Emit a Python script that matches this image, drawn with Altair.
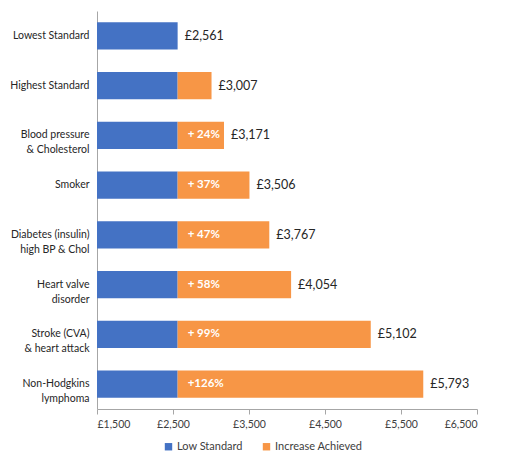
import altair as alt
import pandas as pd

categories = [
    "Lowest Standard",
    "Highest Standard",
    "Blood pressure|& Cholesterol",
    "Smoker",
    "Diabetes (insulin)|high BP & Chol",
    "Heart valve|disorder",
    "Stroke (CVA)|& heart attack",
    "Non-Hodgkins|lymphoma",
]
low_standard = 2561
totals = [2561, 3007, 3171, 3506, 3767, 4054, 5102, 5793]
pct_labels = ["", "", "+ 24%", "+ 37%", "+ 47%", "+ 58%", "+ 99%", "+126%"]
x_ticks = [1500, 2500, 3500, 4500, 5500, 6500]
series = ["Low Standard", "Increase Achieved"]
colors = ["#4472C4", "#F79646"]

FONT = "Lato"
AXIS_GREY = "#A6A6A6"

rows = []
for cat, tot in zip(categories, totals):
    rows.append({"cat": cat, "series": series[0], "start": x_ticks[0], "end": low_standard})
    rows.append({"cat": cat, "series": series[1], "start": low_standard, "end": tot})
bars_df = pd.DataFrame(rows)

labels_df = pd.DataFrame(
    {"cat": categories, "total": totals, "pct": pct_labels, "low": [low_standard] * len(categories)}
)

y_enc = alt.Y(
    "cat:N",
    sort=categories,
    scale=alt.Scale(paddingInner=0.45, paddingOuter=0.225),
    axis=alt.Axis(
        title=None,
        labelExpr="split(datum.label, '|')",
        ticks=False,
        domainColor=AXIS_GREY,
        labelFont=FONT,
        labelFontSize=10.5,
        labelColor="#262626",
        labelPadding=8,
        labelLineHeight=15,
        labelLimit=200,
    ),
)

x_scale = alt.Scale(domain=[x_ticks[0], x_ticks[-1]], zero=False, nice=False)

bars = (
    alt.Chart(bars_df)
    .mark_bar()
    .encode(
        y=y_enc,
        x=alt.X(
            "start:Q",
            scale=x_scale,
            axis=alt.Axis(
                title=None,
                values=x_ticks,
                labelExpr="'£' + format(datum.value, ',')",
                grid=False,
                tickSize=5,
                tickColor=AXIS_GREY,
                domainColor=AXIS_GREY,
                labelFont=FONT,
                labelFontSize=10.5,
                labelColor="#404040",
                labelPadding=5,
            ),
        ),
        x2="end:Q",
        color=alt.Color(
            "series:N",
            scale=alt.Scale(domain=series, range=colors),
            legend=alt.Legend(
                title=None,
                orient="none",
                legendX=66,
                legendY=430,
                direction="horizontal",
                symbolType="square",
                symbolSize=55,
                symbolStrokeWidth=0,
                labelFont=FONT,
                labelFontSize=11,
                labelColor="#404040",
                columnPadding=18,
                labelOffset=3,
            ),
        ),
    )
)

pct_text = (
    alt.Chart(labels_df)
    .mark_text(align="left", dx=10, font=FONT, fontSize=11.5, fontWeight="bold", color="white")
    .encode(y=alt.Y("cat:N", sort=categories), x=alt.X("low:Q", scale=x_scale), text="pct:N")
)

total_text = (
    alt.Chart(labels_df)
    .transform_calculate(lbl="'£' + format(datum.total, ',')")
    .mark_text(align="left", dx=7, font=FONT, fontSize=12.5, color="#262626")
    .encode(y=alt.Y("cat:N", sort=categories), x=alt.X("total:Q", scale=x_scale), text="lbl:N")
)

chart = (
    alt.layer(bars, pct_text, total_text)
    .properties(
        width=380,
        height=398,
        autosize=alt.AutoSizeParams(type="none"),
        padding={"left": 89, "top": 3, "right": 15, "bottom": 47},
    )
    .configure_view(stroke=None)
)

chart.save("out.html", embed_options={"renderer": "svg", "actions": False})
